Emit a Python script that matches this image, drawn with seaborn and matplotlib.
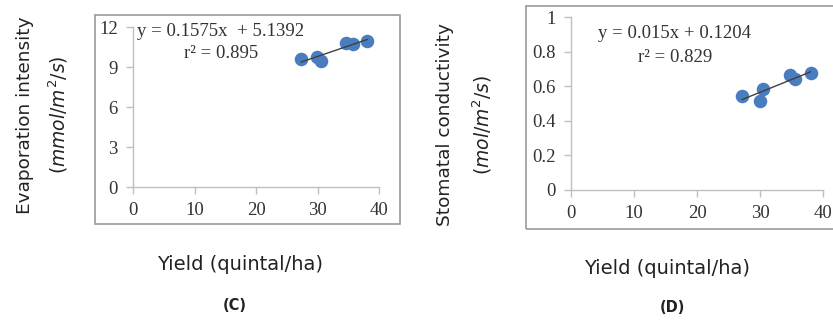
import numpy as np
import pandas as pd
import matplotlib
matplotlib.use("Agg")
import matplotlib.pyplot as plt
import seaborn as sns
from matplotlib.patches import Rectangle

# panel C: yield vs evaporation intensity
yield_c = [27.3, 29.9, 30.6, 34.7, 35.7, 38.1]
evap_c = [9.58, 9.73, 9.48, 10.82, 10.72, 10.97]

# panel D: yield vs stomatal conductivity
yield_d = [27.1, 30.5, 29.9, 34.7, 35.5, 38.0]
cond_d = [0.544, 0.583, 0.517, 0.666, 0.643, 0.676]

sns.set_style("white")

W, H = 833, 320
fig = plt.figure(figsize=(W / 100, H / 100), dpi=100)

blue = "#4a7cc0"
grey = "#bfbfbf"
serif = "Liberation Serif"


def px(x, y):
    return x / W, 1 - y / H


def panel(rect, frame, xs, ys, ylim, yticks, yticklabels, ylab1, ylab2, lab_x, eq, eq_pos, r2, r2_pos):
    ax = fig.add_axes(rect)
    df = pd.DataFrame({"x": xs, "y": ys})
    sns.regplot(data=df, x="x", y="y", ax=ax, ci=None, truncate=True,
                scatter_kws={"s": 95, "color": blue, "alpha": 1, "linewidths": 0},
                line_kws={"color": "#404040", "lw": 1})
    ax.set_xlim(0, 40)
    ax.set_ylim(*ylim)
    ax.set_xticks([0, 10, 20, 30, 40])
    ax.set_yticks(yticks)
    ax.set_yticklabels(yticklabels)
    ax.set_xlabel("")
    ax.set_ylabel("")
    for s in ["top", "right"]:
        ax.spines[s].set_visible(False)
    for s in ["left", "bottom"]:
        ax.spines[s].set_color(grey)
        ax.spines[s].set_linewidth(1)
    ax.tick_params(direction="out", length=5, color=grey, width=1,
                   labelsize=13.5, pad=6, left=True, bottom=True)
    for t in ax.get_xticklabels() + ax.get_yticklabels():
        t.set_fontfamily(serif)
        t.set_color("#333333")
    fig.patches.append(Rectangle(px(frame[0], frame[3]), (frame[2] - frame[0]) / W,
                                 (frame[3] - frame[1]) / H, transform=fig.transFigure,
                                 fill=False, edgecolor="#9a9a9a", lw=1.2))
    fig.text(*px(*lab_x[0]), ylab1, rotation=90, ha="center", va="center",
             fontsize=13.3, color="#222222")
    fig.text(*px(*lab_x[1]), ylab2, rotation=90, ha="center", va="center",
             fontsize=13.5, style="italic", color="#222222")
    fig.text(*px(*eq_pos), eq, ha="center", va="center", fontsize=13.5,
             family=serif, color="#333333")
    fig.text(*px(*r2_pos), r2, ha="center", va="center", fontsize=13.5,
             family=serif, color="#333333")
    return ax


panel([133 / W, 1 - 187 / H, 246 / W, 160 / H], (95, 15, 400, 224),
      yield_c, evap_c, (0, 12), [0, 3, 6, 9, 12], ["0", "3", "6", "9", "12"],
      "Evaporation intensity", r"$(mmol/m^2/s)$",
      [(25, 115), (58, 115)],
      "y = 0.1575x  + 5.1392", (221, 31), "r² = 0.895", (221, 54))

panel([571 / W, 1 - 190 / H, 252.3 / W, 172.7 / H], (526, 6, 840, 229),
      yield_d, cond_d, (0, 1), [0, 0.2, 0.4, 0.6, 0.8, 1],
      ["0", "0.2", "0.4", "0.6", "0.8", "1"],
      "Stomatal conductivity", r"$(mol/m^2/s)$",
      [(445, 125), (482, 125)],
      "y = 0.015x + 0.1204", (675, 34), "r² = 0.829", (675, 58))

fig.text(*px(240, 265), "Yield (quintal/ha)", ha="center", va="center", fontsize=14, color="#222222")
fig.text(*px(667, 268), "Yield (quintal/ha)", ha="center", va="center", fontsize=14, color="#222222")
fig.text(*px(235, 305), "(C)", ha="center", va="center", fontsize=10.5, weight="bold", color="#222222")
fig.text(*px(672, 308), "(D)", ha="center", va="center", fontsize=10.5, weight="bold", color="#222222")

fig.savefig("out.png", dpi=100)
